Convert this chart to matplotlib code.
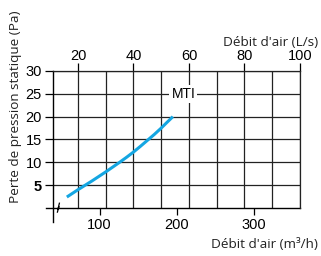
import matplotlib
matplotlib.use('Agg')
import matplotlib.pyplot as plt
import matplotlib.ticker as tick

# courbe MTI : debit (L/s) -> perte de pression statique (Pa)
debit_ls = [16, 18, 20, 22.5, 25, 27.5, 30, 32.5, 35, 37.5, 40, 42.5, 45, 47.5, 50, 52, 54.2]
perte_pa = [2.4, 3.2, 4.0, 4.95, 5.9, 6.9, 7.9, 8.95, 10.0, 11.1, 12.25, 13.5, 14.8, 16.1, 17.5, 18.7, 20.0]
top_ticks = [20, 40, 60, 80, 100]
bottom_ticks = [100, 200, 300]
y_ticks = [5, 10, 15, 20, 25, 30]

num_font = ['Liberation Sans Narrow', 'Liberation Sans', 'DejaVu Sans']
lab_font = ['Open Sans', 'DejaVu Sans']

fig = plt.figure(figsize=(3.21, 2.56), dpi=100)
ax = fig.add_axes([0.165, 0.1875, 0.7695, 0.5352])

ax.plot(debit_ls, perte_pa, color='#14a6e2', lw=2.2, solid_capstyle='butt',
        solid_joinstyle='round', zorder=3)
ax.set_xlim(11, 100)
ax.set_ylim(0, 30)

# grille
ax.xaxis.set_major_locator(tick.FixedLocator(top_ticks))
ax.xaxis.set_minor_locator(tick.MultipleLocator(10))
ax.set_yticks(y_ticks)
ax.grid(which='both', color='#222222', lw=0.9)
ax.set_axisbelow(True)

ax.xaxis.tick_top()
ax.tick_params(axis='x', which='major', direction='out', length=6, width=0.9, pad=0, labelsize=10.5)
ax.tick_params(axis='x', which='minor', length=0)
ax.tick_params(axis='y', direction='out', length=6, width=0.9, pad=2, labelsize=10.5)
for lab in ax.get_xticklabels() + ax.get_yticklabels():
    lab.set_family(num_font)
ax.get_yticklabels()[0].set_fontweight('bold')

for s in ['top', 'right']:
    ax.spines[s].set_linewidth(0.9)
    ax.spines[s].set_color('#222222')
ax.spines['left'].set_visible(False)
ax.spines['bottom'].set_visible(False)

# axes avec coupure en bas a gauche
ax.plot([-0.03, 1.0], [0, 0], transform=ax.transAxes, color='black', lw=1.0, clip_on=False)
ax.plot([0.0, 0.0], [-0.1, 1.0], transform=ax.transAxes, color='black', lw=1.0, clip_on=False)
ax.plot([0.018, 0.024, 0.020, 0.026], [-0.03, 0.01, -0.01, 0.035], transform=ax.transAxes,
        color='black', lw=0.9, clip_on=False)

sec = ax.secondary_xaxis('bottom', functions=(lambda x: x * 3.6, lambda x: x / 3.6))
sec.set_xticks(bottom_ticks)
sec.tick_params(direction='out', length=5, width=0.9, pad=2, labelsize=10.5)
sec.spines['bottom'].set_visible(False)
for lab in sec.get_xticklabels():
    lab.set_family(num_font)

ax.text(58, 25, 'MTI', ha='center', va='center', fontsize=10, family=num_font,
        bbox=dict(facecolor='white', edgecolor='none', pad=1.5), zorder=4)

fig.text(318 / 321, 1 - 42 / 256, "Débit d'air (L/s)", ha='right', va='center',
         fontsize=9.7, family=lab_font, color='#222222')
fig.text(318 / 321, 1 - 245 / 256, "Débit d'air (m³/h)", ha='right', va='center',
         fontsize=9.7, family=lab_font, color='#222222')
fig.text(16 / 321, 1 - 107 / 256, 'Perte de pression statique (Pa)', ha='center', va='center',
         rotation=90, fontsize=9.7, family=lab_font, color='#222222')

fig.savefig('out.png', dpi=100)
